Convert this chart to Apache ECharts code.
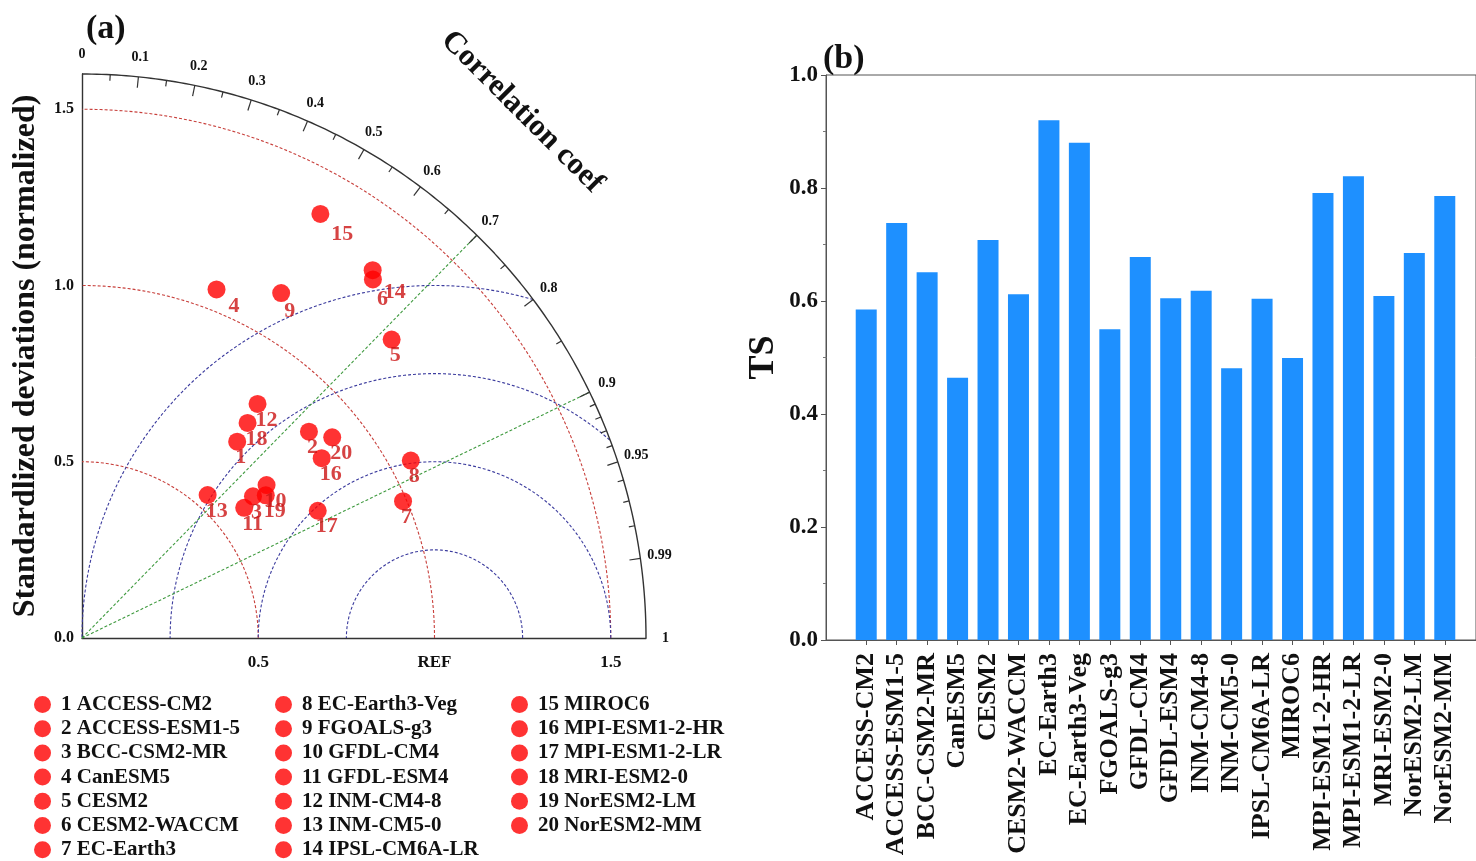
<!DOCTYPE html>
<html>
<head>
<meta charset="utf-8">
<script src="https://cdn.jsdelivr.net/npm/echarts@6/dist/echarts.min.js"></script>
<style>
html, body { margin: 0; padding: 0; background: #ffffff; }
#chart { width: 1476px; height: 861px; }
</style>
</head>
<body>
<div id="chart"></div>
<script>
// CMIP6 models, numbered 1..20 in this order
const models = [
  'ACCESS-CM2', 'ACCESS-ESM1-5', 'BCC-CSM2-MR', 'CanESM5', 'CESM2',
  'CESM2-WACCM', 'EC-Earth3', 'EC-Earth3-Veg', 'FGOALS-g3', 'GFDL-CM4',
  'GFDL-ESM4', 'INM-CM4-8', 'INM-CM5-0', 'IPSL-CM6A-LR', 'MIROC6',
  'MPI-ESM1-2-HR', 'MPI-ESM1-2-LR', 'MRI-ESM2-0', 'NorESM2-LM', 'NorESM2-MM'
];

// Taylor diagram statistics (normalized standard deviation, correlation)
const stdDev = [
  0.71, 0.87, 0.63, 1.06, 1.22,
  1.31, 0.99, 1.06, 1.13, 0.68,
  0.59, 0.83, 0.54, 1.33, 1.38,
  0.85, 0.76, 0.77, 0.66, 0.91
];
const corrCoef = [
  0.62, 0.74, 0.77, 0.36, 0.72,
  0.63, 0.92, 0.88, 0.50, 0.77,
  0.78, 0.60, 0.66, 0.62, 0.49,
  0.80, 0.88, 0.61, 0.79, 0.78
];

// TS score per model
const tsScore = [
  0.585, 0.738, 0.651, 0.464, 0.708,
  0.612, 0.920, 0.880, 0.550, 0.678,
  0.605, 0.618, 0.481, 0.604, 0.499,
  0.791, 0.821, 0.609, 0.685, 0.786
];

// Reference contours of the Taylor diagram
const stdArcs = [0.5, 1.0, 1.5];           // std-dev circles about the origin
const rmsArcs = [0.25, 0.5, 0.75, 1.0];    // centred RMS difference circles about REF
const corrLines = [0.7, 0.9];              // radial correlation guides
const corrMajor = [0, 0.1, 0.2, 0.3, 0.4, 0.5, 0.6, 0.7, 0.8, 0.9, 0.95, 0.99, 1];
const corrMinor = [0.05, 0.15, 0.25, 0.35, 0.45, 0.55, 0.65, 0.75, 0.85,
                   0.91, 0.92, 0.93, 0.94, 0.96, 0.97, 0.98];
const stdMax = 1.6;
const refStd = 1.0;

const FONT = 'Liberation Serif';
const RED = '#ff0000';
const LABEL_RED = '#cc1414';

// extra pixel shift for a few number labels that sit further from their dot
const labelShift = { 4: [14, 1], 6: [6, 4], 9: [5, 2], 14: [13, 6], 15: [13, 4] };

function polar(r, c) {
  const t = Math.acos(c);
  return [r * Math.cos(t), r * Math.sin(t)];
}

function stdArc(r) {
  const pts = [];
  for (let d = 0; d <= 90; d += 0.5) {
    const t = d * Math.PI / 180;
    pts.push([r * Math.cos(t), r * Math.sin(t)]);
  }
  return pts;
}

function rmsArc(r) {
  const pts = [];
  for (let d = 0; d <= 180; d += 0.25) {
    const t = d * Math.PI / 180;
    const x = refStd + r * Math.cos(t);
    const y = r * Math.sin(t);
    if (x >= -1e-9 && x * x + y * y <= stdMax * stdMax + 1e-9) pts.push([x, y]);
  }
  return pts;
}

const dashLine = (color) => ({
  type: 'line', xAxisIndex: 0, yAxisIndex: 0, showSymbol: false, silent: true,
  clip: false, z: 1,
  lineStyle: { color: color, width: 1.1, type: [3, 2] }
});

const series = [];

stdArcs.forEach(r => series.push(Object.assign(dashLine('#c8403c'), { data: stdArc(r) })));
rmsArcs.forEach(r => series.push(Object.assign(dashLine('#3c3c9e'), { data: rmsArc(r) })));
corrLines.forEach(c => series.push(Object.assign(dashLine('#3f9a3f'), { data: [[0, 0], polar(stdMax, c)] })));

// outer correlation arc
series.push({
  type: 'line', xAxisIndex: 0, yAxisIndex: 0, showSymbol: false, silent: true, clip: false,
  data: stdArc(stdMax), lineStyle: { color: '#333', width: 1.4 }, z: 3
});

// correlation ticks and their labels
const tickData = corrMajor.map(c => [c, 1]).concat(corrMinor.map(c => [c, 0]));
series.push({
  type: 'custom', xAxisIndex: 0, yAxisIndex: 0, silent: true, clip: false, z: 4,
  data: tickData,
  renderItem: function (params, api) {
    const c = api.value(0);
    const major = api.value(1) === 1;
    const t = Math.acos(c);
    const outer = api.coord(polar(stdMax, c));
    const len = major ? 11 : 6;
    const children = [];
    if (c > 0 && c < 1) {
      children.push({
        type: 'line',
        shape: { x1: outer[0], y1: outer[1], x2: outer[0] - len * Math.cos(t), y2: outer[1] + len * Math.sin(t) },
        style: { stroke: '#333', lineWidth: 1.2 }
      });
    }
    if (major) {
      const p = api.coord(polar(1.655, c));
      children.push({
        type: 'text', x: p[0], y: p[1],
        style: { text: String(c), font: 'bold 14px ' + FONT, fill: '#111', align: 'center', verticalAlign: 'middle' }
      });
    }
    return { type: 'group', children: children };
  }
});

// model points
models.forEach((m, i) => {
  const n = i + 1;
  const sh = labelShift[n] || [0, 0];
  series.push({
    name: m, type: 'scatter', xAxisIndex: 0, yAxisIndex: 0, z: 10,
    symbol: 'circle', symbolSize: 18, itemStyle: { color: RED },
    data: [polar(stdDev[i], corrCoef[i])],
    label: {
      show: true, formatter: String(n), position: [7 + sh[0], 25 + sh[1]],
      align: 'left', verticalAlign: 'middle',
      color: LABEL_RED, fontFamily: FONT, fontWeight: 'bold', fontSize: 22
    }
  });
});

// TS bars
series.push({
  type: 'bar', xAxisIndex: 2, yAxisIndex: 2, data: tsScore, barWidth: 21,
  itemStyle: { color: '#1e90ff' }, silent: true
});

const legendCols = [[0, 7, 34], [7, 14, 275], [14, 20, 511]];

const option = {
  backgroundColor: '#ffffff',
  animation: false,
  textStyle: { fontFamily: FONT },
  grid: [
    { left: 82, top: 74, width: 564, height: 564 },
    { left: 826, top: 75, right: -30, bottom: 221, show: true, borderColor: '#555', borderWidth: 1, backgroundColor: 'transparent' },
    { left: 851, top: 75, width: 609, bottom: 221 }
  ],
  xAxis: [
    {
      gridIndex: 0, type: 'value', min: 0, max: stdMax, interval: 0.5,
      axisLine: { show: true, lineStyle: { color: '#333', width: 1.4 } },
      axisTick: { show: false }, splitLine: { show: false },
      axisLabel: {
        margin: 16, color: '#111', fontFamily: FONT, fontWeight: 'bold', fontSize: 17,
        formatter: v => (Math.abs(v - refStd) < 1e-9 ? 'REF' : (Math.abs(v - 0.5) < 1e-9 || Math.abs(v - 1.5) < 1e-9) ? v.toFixed(1) : '')
      }
    },
    {
      gridIndex: 1, type: 'value', min: 0, max: 1,
      axisLine: { show: true, lineStyle: { color: '#555', width: 1 } },
      axisTick: { show: false }, axisLabel: { show: false }, splitLine: { show: false }
    },
    {
      gridIndex: 2, type: 'category', data: models,
      axisLine: { show: false },
      axisTick: { show: true, alignWithLabel: true, length: 5, lineStyle: { color: '#555' } },
      axisLabel: {
        rotate: 90, interval: 0, margin: 13, color: '#111',
        fontFamily: FONT, fontWeight: 'bold', fontSize: 26
      }
    }
  ],
  yAxis: [
    {
      gridIndex: 0, type: 'value', min: 0, max: stdMax, interval: 0.5,
      name: 'Standardlized deviations (normalized)', nameLocation: 'middle', nameGap: 40,
      nameTextStyle: { color: '#111', fontFamily: FONT, fontWeight: 'bold', fontSize: 32 },
      axisLine: { show: true, lineStyle: { color: '#333', width: 1.4 } },
      axisTick: { show: false }, splitLine: { show: false },
      axisLabel: {
        margin: 8, color: '#111', fontFamily: FONT, fontWeight: 'bold', fontSize: 16,
        formatter: v => (v > 1.55 ? '' : v.toFixed(1))
      }
    },
    {
      gridIndex: 1, type: 'value', min: 0, max: 1, interval: 0.2,
      name: 'TS', nameLocation: 'middle', nameGap: 44,
      nameTextStyle: { color: '#111', fontFamily: FONT, fontWeight: 'bold', fontSize: 36 },
      axisLine: { show: true, lineStyle: { color: '#555', width: 1 } },
      axisTick: { show: true, inside: false, length: 5, lineStyle: { color: '#555' } },
      minorTick: { show: true, splitNumber: 2, length: 3, lineStyle: { color: '#777' } },
      splitLine: { show: false },
      axisLabel: {
        margin: 8, color: '#111', fontFamily: FONT, fontWeight: 'bold', fontSize: 23,
        formatter: v => v.toFixed(1)
      }
    },
    {
      gridIndex: 2, type: 'value', min: 0, max: 1, show: false
    }
  ],
  legend: legendCols.map(([a, b, left]) => ({
    show: true, orient: 'vertical', left: left, top: 694, height: 167, padding: 0, itemGap: 3.2,
    icon: 'circle', itemWidth: 17, itemHeight: 17, selectedMode: false,
    data: models.slice(a, b),
    formatter: name => (models.indexOf(name) + 1) + ' ' + name,
    textStyle: { color: '#111', fontFamily: FONT, fontWeight: 'bold', fontSize: 21, lineHeight: 20, padding: [0, 0, 0, 5] }
  })),
  graphic: [
    { type: 'text', left: 86, top: 12, style: { text: '(a)', font: 'bold 34px ' + FONT, fill: '#111' } },
    { type: 'text', left: 823, top: 42, style: { text: '(b)', font: 'bold 34px ' + FONT, fill: '#111' } },
    {
      type: 'text', x: 522, y: 112, rotation: -Math.PI / 4,
      style: { text: 'Correlation coef', font: 'bold 31px ' + FONT, fill: '#111', align: 'center', verticalAlign: 'middle' }
    }
  ],
  series: series
};

const chart = echarts.init(document.getElementById('chart'), null, { renderer: 'canvas' });
chart.setOption(option);
</script>
</body>
</html>
